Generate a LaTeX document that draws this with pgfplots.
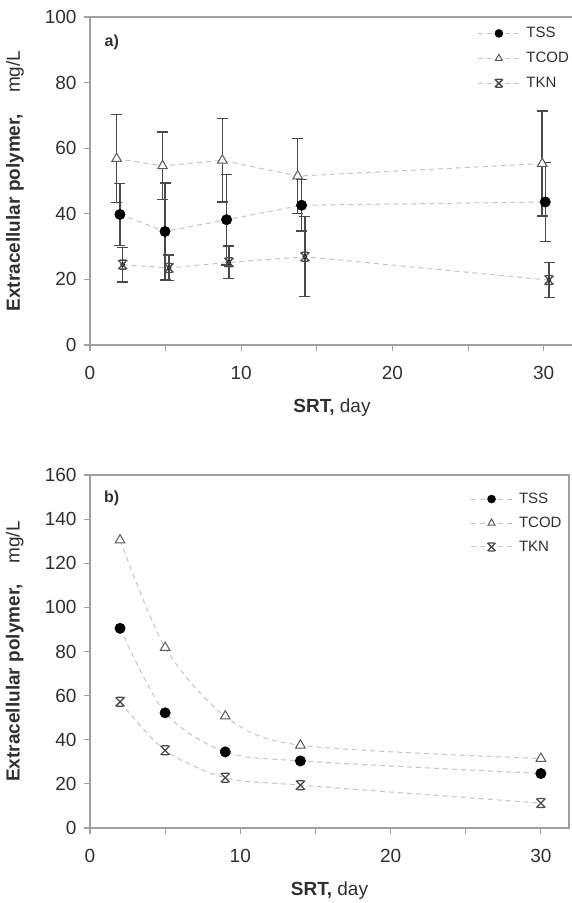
\documentclass[border=0pt]{standalone}
\usepackage{pgfplots}
\pgfplotsset{compat=1.18}
\usepackage{fontspec}
\setmainfont{Liberation Sans}
\definecolor{axgray}{HTML}{A0A0A0}
\definecolor{dashgray}{HTML}{C4C4C4}
\definecolor{ebar}{HTML}{4A4A4A}
\definecolor{txt}{HTML}{303030}
\definecolor{tri}{HTML}{5A5A5A}

\pgfdeclareplotmark{xbars}{%
  \pgfpathmoveto{\pgfqpoint{-\pgfplotmarksize}{-\pgfplotmarksize}}%
  \pgfpathlineto{\pgfqpoint{\pgfplotmarksize}{\pgfplotmarksize}}%
  \pgfpathmoveto{\pgfqpoint{-\pgfplotmarksize}{\pgfplotmarksize}}%
  \pgfpathlineto{\pgfqpoint{\pgfplotmarksize}{-\pgfplotmarksize}}%
  \pgfpathmoveto{\pgfqpoint{-0.7\pgfplotmarksize}{\pgfplotmarksize}}%
  \pgfpathlineto{\pgfqpoint{0.7\pgfplotmarksize}{\pgfplotmarksize}}%
  \pgfpathmoveto{\pgfqpoint{-0.7\pgfplotmarksize}{-\pgfplotmarksize}}%
  \pgfpathlineto{\pgfqpoint{0.7\pgfplotmarksize}{-\pgfplotmarksize}}%
  \pgfusepathqstroke}

\pgfplotsset{
  common/.style={
    scale only axis,
    axis line style={axgray, line width=1.2pt},
    tick style={axgray, line width=1.2pt},
    tick align=outside, tick pos=left,
    major tick length=6pt, minor tick length=6pt,
    xmin=0, xtick={0,10,20,30}, minor xtick={5,15,25},
    /pgf/number format/assume math mode=true,
    ticklabel style={font=\fontsize{19}{19}\selectfont, text=txt},
    xticklabel style={yshift=-12pt},
    yticklabel style={xshift=-4pt},
    xlabel={\textbf{SRT,} day},
    ylabel={\textbf{Extracellular polymer,}\hspace{1.1em}mg/L},
    every axis x label/.style={at={(axis description cs:0.5,0)}, anchor=center, yshift=-63pt,
      font=\fontsize{19}{19}\selectfont, text=txt},
    legend style={draw=none, fill=none, font=\fontsize{15}{15}\selectfont, text=txt,
      anchor=north west, inner sep=0pt, column sep=4pt},
    legend cell align=left,
    legend image code/.code={\draw[mark repeat=2,mark phase=2,##1, mark size=4pt] plot coordinates {(0pt,0pt) (21pt,0pt) (42pt,0pt)};},
  },
  dashln/.style={dashgray, dash pattern=on 5pt off 4pt, line width=1pt},
  tss/.style={dashln, mark=*, mark size=5.2pt, mark options={solid, fill=black, draw=black, line width=0.5pt}},
  tcod/.style={dashln, mark=triangle*, mark size=5.5pt, mark options={solid, fill=white, draw=tri, line width=1pt}},
  tkn/.style={dashln, mark=xbars, mark size=4.5pt, mark options={solid, draw=ebar, line width=1.3pt}},
  ebars/.style={only marks, mark=none, forget plot,
    error bars/.cd, y dir=both, y explicit,
    error bar style={ebar, line width=1.5pt},
    error mark options={rotate=90, ebar, mark size=5.5pt, line width=1.3pt}},
}

\begin{document}
\begin{tikzpicture}
\useasboundingbox (0,0) rectangle (571pt,903pt);

% ---------------- panel a ----------------
\begin{axis}[common,
  at={(90pt,558pt)}, anchor=south west,
  width=484pt, height=328pt,
  xmax=32, ymin=0, ymax=100, ytick={0,20,40,60,80,100},
  every axis y label/.style={at={(axis description cs:-0.155,0.5)}, rotate=90, anchor=center,
    font=\fontsize{19}{19}\selectfont, text=txt},
  legend style={at={(axis description cs:0.80,0.975)}, row sep=9pt},
]
\addplot[ebars] coordinates {
  (1.76,56.8) +- (0,13.4) (4.80,54.6) +- (0,10.3) (8.75,56.3) +- (0,12.7)
  (13.73,51.5) +- (0,11.5) (29.9,55.3) +- (0,16.0)};
\addplot[ebars] coordinates {
  (1.98,39.8) +- (0,9.4) (4.96,34.6) +- (0,14.8) (9.03,38.2) +- (0,13.8)
  (13.99,42.6) +- (0,7.8) (30.1,43.6) +- (0,12.0)};
\addplot[ebars] coordinates {
  (2.16,24.5) +- (0,5.3) (5.22,23.5) +- (0,3.9) (9.19,25.2) +- (0,5.0)
  (14.21,26.9) +- (0,12.2) (30.35,19.8) +- (0,5.3)};
\addplot[tss] coordinates {(1.98,39.8) (4.96,34.6) (9.03,38.2) (13.99,42.6) (30.1,43.6)};
\addlegendentry{TSS}
\addplot[tcod] coordinates {(1.76,56.8) (4.80,54.6) (8.75,56.3) (13.73,51.5) (29.9,55.3)};
\addlegendentry{TCOD}
\addplot[tkn] coordinates {(2.16,24.5) (5.22,23.5) (9.19,25.2) (14.21,26.9) (30.35,19.8)};
\addlegendentry{TKN}
\node[font=\bfseries\fontsize{16}{16}\selectfont, text=txt] at (axis description cs:0.045,0.922) {a)};
\end{axis}

% ---------------- panel b ----------------
\begin{axis}[common,
  at={(90pt,75pt)}, anchor=south west,
  width=479pt, height=353pt,
  xmax=31.87, ymin=0, ymax=160, ytick={0,20,40,60,80,100,120,140,160},
  every axis y label/.style={at={(axis description cs:-0.157,0.5)}, rotate=90, anchor=center,
    font=\fontsize{19}{19}\selectfont, text=txt},
  legend style={at={(axis description cs:0.793,0.955)}, row sep=8pt},
]
\addplot[tss, smooth] coordinates {(2,90.5) (5,52.2) (9,34.5) (14,30.4) (30,24.7)};
\addlegendentry{TSS}
\addplot[tcod, smooth] coordinates {(2,130.5) (5,81.8) (9,50.7) (14,37.5) (30,31.5)};
\addlegendentry{TCOD}
\addplot[tkn, smooth] coordinates {(2,57.2) (5,35.2) (9,22.8) (14,19.4) (30,11.3)};
\addlegendentry{TKN}
\node[font=\bfseries\fontsize{16}{16}\selectfont, text=txt] at (axis description cs:0.045,0.935) {b)};
\end{axis}
\end{tikzpicture}
\end{document}
